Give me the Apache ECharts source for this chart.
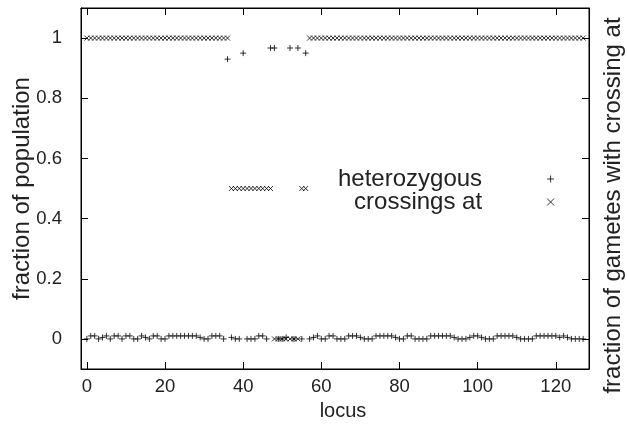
<!DOCTYPE html>
<html>
<head>
<meta charset="utf-8">
<script src="https://cdn.jsdelivr.net/npm/echarts@6/dist/echarts.min.js"></script>
<style>
  html, body { margin: 0; padding: 0; background: #fff; }
  #chart { width: 627px; height: 427px; }
</style>
</head>
<body>
<div id="chart"></div>
<script>
// fraction of population heterozygous at each locus (0..127)
var heterozygous = [
  0, 0.01, 0.01, 0, 0.005, 0.01, 0, 0.01, 0.01, 0,
  0.01, 0.01, 0, 0, 0.01, 0.005, 0, 0.01, 0.01, 0,
  0, 0.01, 0.01, 0.01, 0.01, 0.01, 0.01, 0.01, 0.01, 0.005,
  0, 0, 0.01, 0.01, 0.01, 0, 0.93, 0.005, 0, 0,
  0.95, 0, 0, 0, 0.01, 0.01, 0, 0.967, 0.967, 0,
  0, 0.005, 0.967, 0, 0.967, 0, 0.95, 0, 0.005, 0.01,
  0, 0, 0.01, 0.01, 0, 0, 0, 0.01, 0.01, 0.01,
  0.005, 0, 0, 0, 0.01, 0.01, 0.01, 0.01, 0.01, 0.005,
  0, 0, 0.01, 0.01, 0, 0, 0, 0, 0.01, 0.01,
  0.01, 0.01, 0.01, 0.01, 0.005, 0, 0, 0, 0.005, 0.01,
  0.01, 0.005, 0, 0, 0, 0.01, 0.01, 0.01, 0.01, 0.01,
  0.005, 0, 0, 0, 0, 0.01, 0.01, 0.01, 0.01, 0.01,
  0.01, 0.005, 0.01, 0.005, 0, 0, 0, 0
];

// fraction of gametes with crossing at each locus
var crossings = [
  1, 1, 1, 1, 1, 1, 1, 1, 1, 1,
  1, 1, 1, 1, 1, 1, 1, 1, 1, 1,
  1, 1, 1, 1, 1, 1, 1, 1, 1, 1,
  1, 1, 1, 1, 1, 1, 1, 0.5, 0.5, 0.5,
  0.5, 0.5, 0.5, 0.5, 0.5, 0.5, 0.5, 0.5, 0, 0,
  0, 0, 0, 0, 0, 0.5, 0.5, 1, 1, 1,
  1, 1, 1, 1, 1, 1, 1, 1, 1, 1,
  1, 1, 1, 1, 1, 1, 1, 1, 1, 1,
  1, 1, 1, 1, 1, 1, 1, 1, 1, 1,
  1, 1, 1, 1, 1, 1, 1, 1, 1, 1,
  1, 1, 1, 1, 1, 1, 1, 1, 1, 1,
  1, 1, 1, 1, 1, 1, 1, 1, 1, 1,
  1, 1, 1, 1, 1, 1, 1, 1
];

var xTicks = [0, 20, 40, 60, 80, 100, 120];
var yTicks = [0, 0.2, 0.4, 0.6, 0.8, 1];

var plusPath = "path://M5,0L5,10M0,5L10,5";
var crossPath = "path://M0,0L10,10M10,0L0,10";
var font = "Liberation Sans";
var textColor = "#222";

var myChart = echarts.init(document.getElementById("chart"));

var tickStyle = { inside: true, length: 7, lineStyle: { color: "#000", width: 1 } };
var lineStyle = { show: true, onZero: false, lineStyle: { color: "#000", width: 1 } };

var options = {
  animation: false,
  backgroundColor: "#fff",
  textStyle: { fontFamily: font, color: textColor },
  grid: {
    left: 81, right: 38, top: 8, bottom: 58,
    outerBoundsMode: "none", containLabel: false,
    show: true, borderColor: "#000", borderWidth: 1, backgroundColor: "transparent"
  },
  legend: {
    orient: "vertical",
    left: 333,
    top: 162,
    align: "right",
    itemWidth: 7,
    itemHeight: 7,
    itemGap: -1,
    textStyle: {
      fontFamily: font, fontSize: 24, color: textColor,
      padding: [0, 60, 0, 0]
    },
    data: [
      { name: "heterozygous", icon: plusPath, itemStyle: { color: "transparent", borderColor: "#000", borderWidth: 1 } },
      { name: "crossings at", icon: crossPath, itemStyle: { color: "transparent", borderColor: "#000", borderWidth: 1 } }
    ]
  },
  xAxis: [
    {
      type: "value", min: -1.5, max: 128.5,
      name: "locus", nameLocation: "middle", nameGap: 32, nameMoveOverlap: false,
      nameTextStyle: { fontFamily: font, fontSize: 20, color: textColor, padding: [0, 0, 0, 16] },
      axisLine: lineStyle,
      axisTick: Object.assign({ customValues: xTicks }, tickStyle),
      axisLabel: { customValues: xTicks, margin: 8, fontFamily: font, fontSize: 18.5, color: textColor },
      splitLine: { show: false }
    },
    {
      type: "value", min: -1.5, max: 128.5, position: "top",
      axisLine: lineStyle,
      axisTick: Object.assign({ customValues: xTicks }, tickStyle),
      axisLabel: { show: false },
      splitLine: { show: false }
    }
  ],
  yAxis: [
    {
      type: "value", min: -0.1, max: 1.1,
      name: "fraction of population", nameLocation: "middle", nameGap: 47, nameMoveOverlap: false,
      nameTextStyle: { fontFamily: font, fontSize: 24, color: textColor },
      axisLine: lineStyle,
      axisTick: Object.assign({ customValues: yTicks }, tickStyle),
      axisLabel: {
        customValues: yTicks, margin: 19, fontFamily: font, fontSize: 18.5, color: textColor,
        formatter: function (v) { return (v === 0 || v === 1) ? String(v) : v.toFixed(1); }
      },
      splitLine: { show: false }
    },
    {
      type: "value", min: -0.1, max: 1.1, position: "right",
      name: "fraction of gametes with crossing at", nameLocation: "middle", nameGap: 12,
      nameRotate: 90,
      nameTextStyle: { fontFamily: font, fontSize: 24, color: textColor, padding: [0, 34, 0, 0] },
      axisLine: lineStyle,
      axisTick: Object.assign({ customValues: yTicks }, tickStyle),
      axisLabel: { show: false },
      splitLine: { show: false }
    }
  ],
  series: [
    {
      name: "heterozygous",
      type: "scatter",
      symbol: plusPath,
      symbolSize: 6,
      itemStyle: { color: "transparent", borderColor: "#000", borderWidth: 1 },
      data: heterozygous.map(function (v, i) { return [i, v]; })
    },
    {
      name: "crossings at",
      type: "scatter",
      symbol: crossPath,
      symbolSize: 5,
      itemStyle: { color: "transparent", borderColor: "#000", borderWidth: 1 },
      data: crossings.map(function (v, i) { return [i, v]; })
    }
  ]
};
myChart.setOption(options);

window.addEventListener("resize", function () {
  myChart.resize();
});
</script>
</body>
</html>
